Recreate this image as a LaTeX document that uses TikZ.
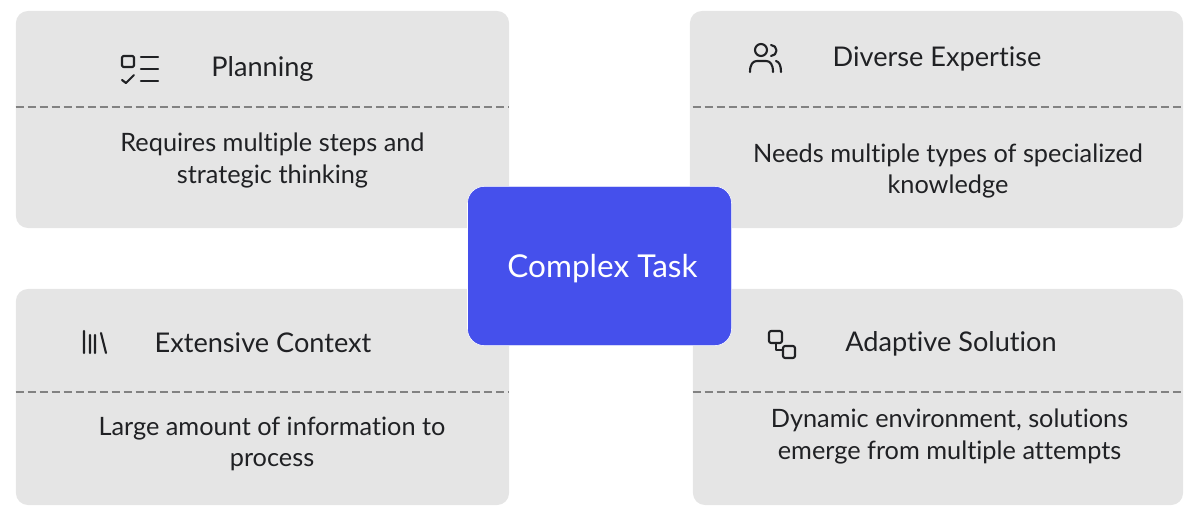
\documentclass[tikz,border=0pt]{standalone}
\usepackage{fontspec}
\setmainfont{Lato}[Ligatures=NoCommon]
\usetikzlibrary{positioning}
\definecolor{card1}{RGB}{229,229,229}
\definecolor{blue1}{RGB}{69,80,236}
\definecolor{gray1}{RGB}{32,33,36}
\definecolor{gray4}{RGB}{130,130,130}

\begin{document}
\begin{tikzpicture}[x=0.025cm, y=-0.025cm]

\tikzstyle{card}	=[rectangle, rounded corners=0.3cm, fill=card1, inner sep=0pt]
\tikzstyle{centre}	=[rectangle, rounded corners=0.42cm, draw=white, fill=blue1, text=white, inner sep=0pt, minimum width=6.6cm, minimum height=3.98cm]
\tikzstyle{title}	=[text=gray1, inner sep=0pt, font=\fontsize{19.3}{22}\selectfont]
\tikzstyle{body}	=[text=gray1, inner sep=0pt, align=center, font=\fontsize{18}{22.3}\selectfont]
\tikzstyle{divider}	=[dash pattern=on 0.2cm off 0.1cm, draw=gray4, line width=0.9pt]
\tikzstyle{icon}	=[draw=gray1, line width=1.5pt, line cap=round, line join=round]

\useasboundingbox (0,0) rectangle (1200,514);

\node[card, minimum width=12.325cm, minimum height=5.425cm]	(plan)	at (262.5,119.5)	{};
\node[card, minimum width=12.325cm, minimum height=5.425cm]	(diverse)	at (936.5,119.5)	{};
\node[card, minimum width=12.325cm, minimum height=5.4cm]	(context)	at (262.5,397)	{};
\node[card, minimum width=12.25cm, minimum height=5.4cm]	(adapt)	at (938,397)	{};

\node[centre]	(task)	at (599.5,266)	{};
\node[text=white, inner sep=0pt, font=\fontsize{22.4}{26}\selectfont]	(taskT)	at (602.5,268.5)	{Complex Task};

\node[title]	(planT)	at (262.5,69)	{Planning};
\node[title]	(diverseT)	at (937,59)	{Diverse Expertise};
\node[title]	(contextT)	at (263,343)	{Extensive Context};
\node[title]	(adaptT)	at (951,344)	{Adaptive Solution};

\node[body]	(planB)	at (272.5,160.5)	{Requires multiple steps and\\strategic thinking};
\node[body]	(diverseB)	at (948,171)	{Needs multiple types of specialized\\knowledge};
\node[body]	(contextB)	at (272,444)	{Large amount of information to\\process};
\node[body]	(adaptB)	at (949.5,436.5)	{Dynamic environment, solutions\\emerge from multiple attempts};

\coordinate (planL)	at (plan.west |- 0,107);
\coordinate (planR)	at (plan.east |- 0,107);
\coordinate (diverseL)	at (adapt.west |- 0,107);
\coordinate (diverseR)	at (diverse.east |- 0,107);
\coordinate (contextL)	at (context.west |- 0,392);
\coordinate (contextR)	at (context.east |- 0,392);
\coordinate (adaptL)	at (adapt.west |- 0,392);
\coordinate (adaptR)	at (adapt.east |- 0,392);

\draw [divider]  (planL) -- (planR);
\draw [divider]  (diverseL) -- (diverseR);
\draw [divider]  (contextL) -- (contextR);
\draw [divider]  (adaptL) -- (adaptR);

% icons
\draw [icon, rounded corners=1pt] (122,56) rectangle (134,67);
\draw [icon] (122,80) -- (126,83) -- (134,75);
\draw [icon] (141,57) -- (158,57) (141,69) -- (158,69) (141,81) -- (158,81);

\draw [icon] (761,50) circle (6);
\draw [icon] (771,45) arc (-90:90:5.5);
\draw [icon] (750,72) .. controls (750,64) and (753,61) .. (757,61) -- (766,61) .. controls (770,61) and (773,64) .. (773,72);
\draw [icon] (776,61) .. controls (779,62) and (781,65) .. (781,72);

\draw [icon] (84,331) -- (84,353) (90,335) -- (90,353) (95,335) -- (95,353) (101,333) -- (106,353);

\draw [icon, rounded corners=1.5pt] (769,331) rectangle (782,343);
\draw [icon, rounded corners=1.5pt] (783,346) rectangle (795,358);
\draw [icon] (776,343) -- (776,350) -- (783,350);

\end{tikzpicture}
\end{document}
